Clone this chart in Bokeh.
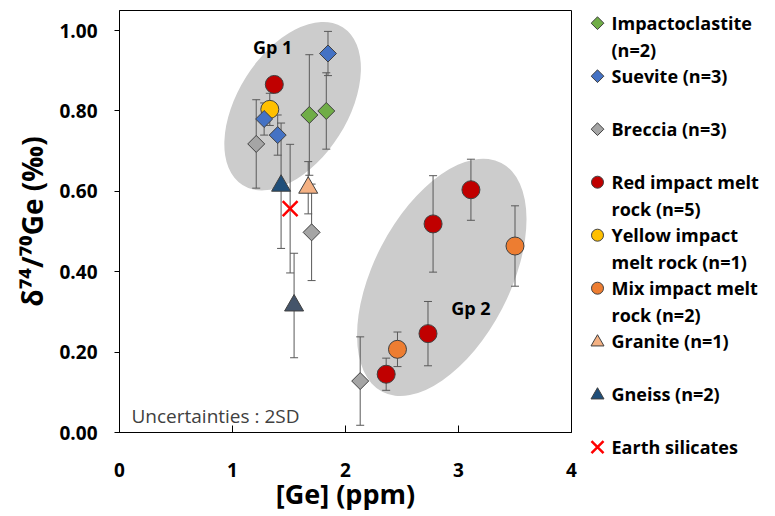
import numpy as np
from bokeh.plotting import figure
from bokeh.models import Range1d, FixedTicker, PrintfTickFormatter, Label
from bokeh.layouts import row
from bokeh.embed import file_html
from bokeh.resources import INLINE
from bokeh.core.properties import value

# ---------------- data ----------------
impacto_x = [1.68, 1.83]
impacto_y = [0.79, 0.80]
impacto_err = [0.15, 0.095]

suevite_x = [1.28, 1.40, 1.845]
suevite_y = [0.78, 0.74, 0.943]
suevite_err = [0.04, 0.05, 0.055]

breccia_x = [1.21, 1.70, 2.13]
breccia_y = [0.718, 0.498, 0.128]
breccia_err = [0.11, 0.12, 0.11]

red_x = [1.37, 2.36, 2.73, 2.775, 3.11]
red_y = [0.866, 0.145, 0.246, 0.519, 0.604]
red_err = [0.02, 0.04, 0.08, 0.12, 0.076]

yellow_x = [1.33]
yellow_y = [0.804]
yellow_err = [0.04]

mix_x = [2.46, 3.50]
mix_y = [0.207, 0.464]
mix_err = [0.043, 0.10]

granite_x = [1.67]
granite_y = [0.609]
granite_err = [0.065]

gneiss_x = [1.43, 1.545]
gneiss_y = [0.614, 0.316]
gneiss_err = [0.156, 0.13]

earth_x = [1.51]
earth_y = [0.557]
earth_err = [0.16]

legend_labels = ["Impactoclastite\n(n=2)", "Suevite (n=3)", "Breccia (n=3)",
                 "Red impact melt\nrock (n=5)", "Yellow impact\nmelt rock (n=1)",
                 "Mix impact melt\nrock (n=2)", "Granite (n=1)", "Gneiss (n=2)",
                 "Earth silicates"]

group_labels = ["Gp 1", "Gp 2"]
group_label_x = [1.355, 3.11]
group_label_y = [0.958, 0.311]

x_ticks = [0, 1, 2, 3, 4]
y_ticks = [0.0, 0.2, 0.4, 0.6, 0.8, 1.0]

FONT = "Open Sans"
OUT = "#404040"
BAR = "#595959"

H = 514
p = figure(width=579, height=H, x_range=Range1d(0, 4), y_range=Range1d(0, 1.05),
           toolbar_location=None, output_backend="svg",
           min_border_left=119, min_border_right=8, min_border_top=10, min_border_bottom=80)
p.frame_align = False
p.grid.visible = False
p.outline_line_color = "black"
p.outline_line_alpha = 1.0
p.outline_line_width = 1
p.background_fill_color = "white"
p.border_fill_color = "white"

# group ellipses (screen-unit sizes)
p.ellipse(x=[1.532], y=[0.812], width=187, height=110, angle=np.radians(57.6),
          width_units="screen", height_units="screen",
          fill_color="#cccccc", line_color=None)
p.ellipse(x=[2.852], y=[0.386], width=258, height=136, angle=np.radians(62.5),
          width_units="screen", height_units="screen",
          fill_color="#cccccc", line_color=None)

series = [
    # (x, y, err, marker, fill, size, lw)
    (red_x, red_y, red_err, "circle", "#c00000", 18, 1),
    (yellow_x, yellow_y, yellow_err, "circle", "#ffc000", 18, 1),
    (mix_x, mix_y, mix_err, "circle", "#ed7d31", 18, 1),
    (breccia_x, breccia_y, breccia_err, "diamond", "#a5a5a5", 12, 1),
    (impacto_x, impacto_y, impacto_err, "diamond", "#70ad47", 12, 1),
    (suevite_x, suevite_y, suevite_err, "diamond", "#4472c4", 12, 1),
    (granite_x, granite_y, granite_err, "triangle", "#f4b183", 19, 1),
    (gneiss_x, gneiss_y, gneiss_err, "triangle", ["#1f4e79", "#44546a"], 19, 1),
    (earth_x, earth_y, earth_err, "x", "#ff0000", 21, 2.5),
]

# error bars first
for xs, ys, es, *_ in series:
    xs = np.array(xs); ys = np.array(ys); es = np.array(es)
    p.segment(x0=xs, y0=ys - es, x1=xs, y1=ys + es, line_color=BAR, line_width=1)
    p.scatter(x=np.concatenate([xs, xs]), y=np.concatenate([ys - es, ys + es]),
              marker="dash", size=8, line_color=BAR, line_width=1)

for xs, ys, es, mk, col, sz, lw in series:
    if mk == "diamond":
        p.scatter(x=xs, y=ys, marker="square", angle=np.pi / 4, size=sz,
                  fill_color=col, line_color=OUT, line_width=lw)
    elif mk == "x":
        p.scatter(x=xs, y=ys, marker="x", size=sz, line_color=col, line_width=lw)
    else:
        p.scatter(x=xs, y=ys, marker=mk, size=sz, fill_color=col,
                  line_color=OUT, line_width=lw)

p.text(x=group_label_x, y=group_label_y, text=group_labels,
       text_font=value(FONT), text_font_style="bold", text_font_size="18px",
       text_color="black", text_align="center", text_baseline="middle")

p.add_layout(Label(x=0.106, y=0.042, text="Uncertainties : 2SD",
                   text_font=FONT, text_font_size="19px", text_color="#404040",
                   text_baseline="middle"))

# axes
p.xaxis.ticker = FixedTicker(ticks=x_ticks)
p.xaxis.formatter = PrintfTickFormatter(format="%d")
p.yaxis.ticker = FixedTicker(ticks=y_ticks)
p.yaxis.formatter = PrintfTickFormatter(format="%.2f")
for ax in (p.xaxis[0], p.yaxis[0]):
    ax.axis_line_color = "black"
    ax.major_tick_line_color = "black"
    ax.minor_tick_line_color = None
    ax.major_label_text_font = FONT
    ax.major_label_text_font_style = "bold"
    ax.major_label_text_font_size = "19px"
    ax.major_label_text_color = "black"
    ax.axis_label_text_font = FONT
    ax.axis_label_text_font_style = "bold"
    ax.axis_label_text_color = "black"
p.xaxis.axis_label_text_font_size = "27px"
p.yaxis.axis_label_text_font_size = "28px"
p.xaxis.major_tick_in = 7
p.xaxis.major_tick_out = 0
p.xaxis.major_label_standoff = 30
p.xaxis.axis_label = "[Ge] (ppm)"
p.xaxis.axis_label_standoff = -5
p.yaxis.major_tick_in = 0
p.yaxis.major_tick_out = 5
p.yaxis.major_label_standoff = 17
p.yaxis.axis_label = "δ⁷⁴/⁷⁰Ge (‰)"
p.yaxis.axis_label_standoff = 5

# ---------------- legend panel ----------------
LW = 188
lg = figure(width=LW, height=H, x_range=Range1d(0, LW), y_range=Range1d(H, 0),
            toolbar_location=None, output_backend="svg",
            x_axis_location=None, y_axis_location=None, min_border=0)
lg.frame_align = False
lg.grid.visible = False
lg.outline_line_color = None

first_y = 22.7
step = 53
line2 = 26.5
mk_x = 18
tx_x = 32

leg_style = [("diamond", "#70ad47"), ("diamond", "#4472c4"), ("diamond", "#a5a5a5"),
             ("circle", "#c00000"), ("circle", "#ffc000"), ("circle", "#ed7d31"),
             ("triangle", "#f4b183"), ("triangle", "#1f4e79"), ("x", "#ff0000")]

t_x, t_y, t_txt = [], [], []
for i, (lab, (mk, col)) in enumerate(zip(legend_labels, leg_style)):
    yy = first_y + step * i
    if mk == "diamond":
        lg.scatter(x=[mk_x], y=[yy], marker="square", angle=np.pi / 4, size=9,
                   fill_color=col, line_color=OUT, line_width=1)
    elif mk == "x":
        lg.scatter(x=[mk_x], y=[yy], marker="x", size=17, line_color=col, line_width=2.5)
    elif mk == "circle":
        lg.scatter(x=[mk_x], y=[yy], marker="circle", size=12,
                   fill_color=col, line_color=OUT, line_width=1)
    else:
        lg.scatter(x=[mk_x], y=[yy + 1], marker="triangle", size=13,
                   fill_color=col, line_color=OUT, line_width=1)
    for j, part in enumerate(lab.split("\n")):
        t_x.append(tx_x)
        t_y.append(yy + j * line2)
        t_txt.append(part)

lg.text(x=t_x, y=t_y, text=t_txt, text_font=value(FONT), text_font_style="bold",
        text_font_size="18px", text_color="black", text_align="left",
        text_baseline="middle")

layout = row(p, lg)
open("out.html", "w").write(file_html(layout, INLINE))
